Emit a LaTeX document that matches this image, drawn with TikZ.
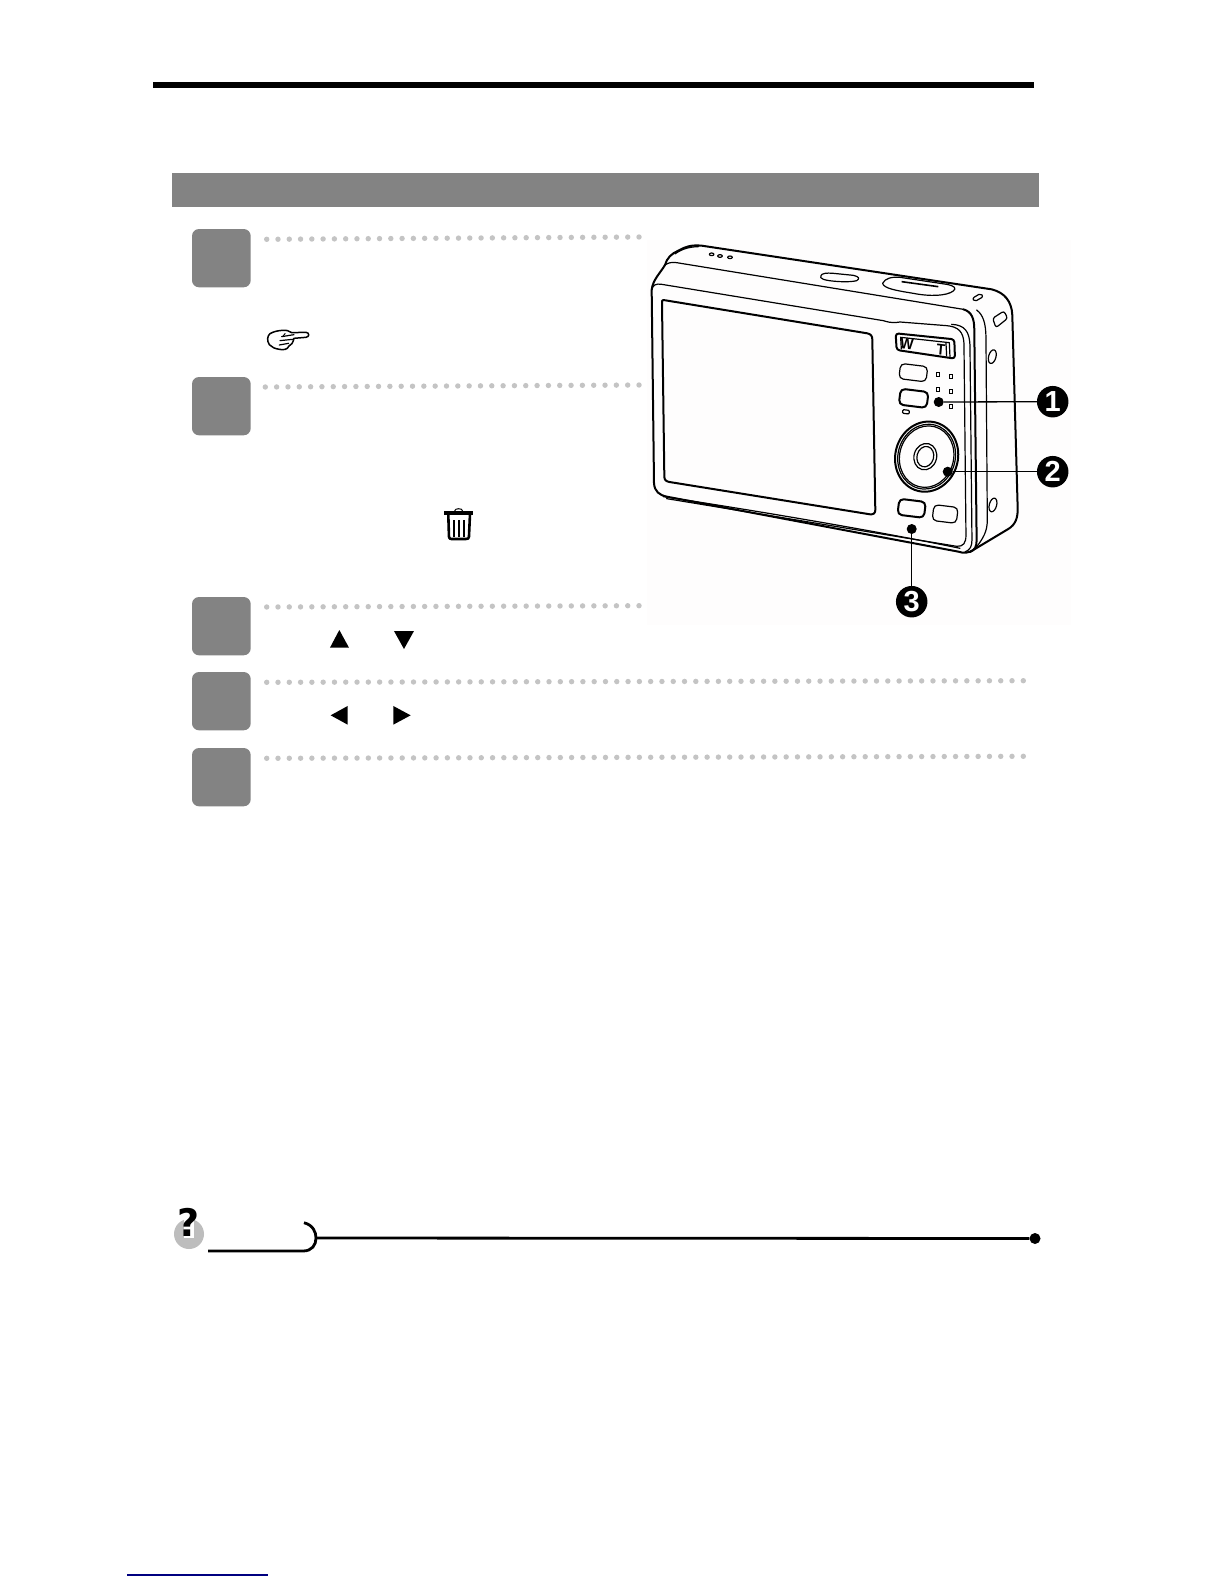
\documentclass[tikz,border=0pt]{standalone}
\usepackage{fontspec}
\setmainfont{Liberation Sans}
\newfontfamily\djv{DejaVu Sans}
\usetikzlibrary{shapes.geometric}
\definecolor{panelgray}{HTML}{838383}
\definecolor{dotgray}{HTML}{C4C4C4}
\definecolor{notegray}{HTML}{BDBDBD}
\definecolor{photobg}{HTML}{FEFDFD}
\definecolor{linkblue}{HTML}{000080}
\tikzset{
  stepbox/.style={fill=panelgray,draw=none,rounded corners=7pt},
  dotmark/.style={fill=dotgray,draw=none},
  tri/.style={fill=black,draw=none},
  cam/.style={line width=1.2pt,line join=round,line cap=round},
  camthick/.style={line width=2pt,line join=round,line cap=round},
  badge/.style={circle,fill=black,text=white,minimum size=31.5pt,inner sep=0pt,font=\bfseries\fontsize{29}{29}\selectfont},
  pin/.style={circle,fill=black,inner sep=0pt,minimum size=10pt},
  leader/.style={line width=1.3pt},
  ruleline/.style={line width=2.8pt}
}
\newcommand{\dotrow}[5]{%
  \foreach \i in {0,...,#5}{%
    \pgfmathsetmacro{\dx}{#1+(#3-#1)/#5*\i}%
    \pgfmathsetmacro{\dy}{#2+(#4-#2)/#5*\i}%
    \fill[dotmark] (\dx,\dy) circle[radius=2.7];%
  }%
}
\begin{document}
\begin{tikzpicture}[x=1pt,y=-1pt]
\useasboundingbox[fill=white] (0,0) rectangle (1224,1584);
% header
\fill[black] (153,82) rectangle (1034,88);
\fill[panelgray] (172,173) rectangle (1039,207);
% step boxes
\foreach \yy in {229,377,597,672,748}{
  \fill[stepbox] (192,\yy) rectangle (250.7,\yy+58.3);
}
% dotted rows
\dotrow{266.7}{239.3}{639}{237}{33}
\dotrow{265.3}{387}{639}{385}{33}
\dotrow{266.7}{607}{639}{605.7}{33}
\dotrow{266.7}{682.3}{1023.3}{680.7}{67}
\dotrow{266.7}{758.3}{1023.3}{756.3}{67}
% hand and trash icons
\begin{scope}[shift={(160,220)},x=.3333pt,y=-.3333pt]
  \draw[line width=1.5pt,line join=round,fill=white] (395,338) -- (438,337) .. controls (449,338) and (449,351) .. (438,352) -- (402,355) .. controls (399,368) and (394,376) .. (386,379) .. controls (384,388) and (370,391) .. (358,388) .. controls (345,386) and (335,382) .. (328,374) .. controls (320,362) and (322,348) .. (330,341) .. controls (342,334) and (355,332) .. (368,331) .. controls (380,330) and (388,333) .. (395,338) -- cycle;
  \draw[line width=1.2pt,line cap=round] (365,350) -- (402,344);
  \draw[line width=1.2pt,line cap=round] (360,362) -- (398,358);
  \draw[line width=1.2pt,line cap=round] (358,375) -- (386,370);
  \draw[line width=1pt] (376,340) -- (368,350);
  \fill[black] (852,873) rectangle (939,885);
  \draw[line width=1pt] (884,873) .. controls (884,864) and (908,864) .. (908,873);
  \draw[line width=2.6pt,line join=round] (865,884) -- (867,950) .. controls (867,955) and (870,957) .. (874,957) -- (918,957) .. controls (924,957) and (927,955) .. (927,950) -- (930,884);
  \foreach \bx in {882,897,912}{\fill[black] (\bx-4,900) rectangle (\bx+4,950);}
\end{scope}
% triangles
\begin{scope}[shift={(180,585)},x=.3333pt,y=-.3333pt]
  \fill[tri] (450,188) -- (507,188) -- (478,135) -- cycle;
  \fill[tri] (642,138) -- (702,138) -- (672,192) -- cycle;
  \fill[tri] (452,391) -- (503,363) -- (503,419) -- cycle;
  \fill[tri] (640,363) -- (640,419) -- (692,391) -- cycle;
\end{scope}
% photo background
\fill[photobg] (647,240) rectangle (1071,625);
% camera
\begin{scope}[shift={(630,230)},x=.3333pt,y=-.3333pt]
  % silhouette
  \draw[camthick] (65,180) .. controls (68,150) and (90,130) .. (105,105)
     .. controls (110,85) and (125,70) .. (145,62) .. controls (165,50) and (185,44) .. (215,47)
     -- (1085,178) .. controls (1125,188) and (1145,215) .. (1147,255)
     -- (1163,830) .. controls (1165,865) and (1155,885) .. (1135,897)
     -- (1030,960) .. controls (1015,970) and (1000,970) .. (985,965)
     -- (110,800) .. controls (88,795) and (74,785) .. (72,760) -- cycle;
  % top surface
  \draw[cam] (105,105) .. controls (115,98) and (125,96) .. (140,98) -- (1000,238);
  \draw[cam] (135,72) .. controls (150,60) and (175,50) .. (205,50);
  \draw[camthick] (1000,238) .. controls (1025,245) and (1033,265) .. (1033,300) -- (1040,930) .. controls (1040,950) and (1035,960) .. (1020,966);
  % front face
  \draw[cam] (65,180) .. controls (68,165) and (78,160) .. (95,163) -- (760,272) .. controls (785,280) and (795,278) .. (810,276) -- (950,287) .. controls (985,290) and (1000,305) .. (1002,340) -- (1008,915) .. controls (1008,940) and (1000,950) .. (980,949) -- (110,806);
  \draw[cam] (965,283) .. controls (1005,285) and (1018,305) .. (1020,345) -- (1026,930) .. controls (1026,950) and (1020,960) .. (1005,966);
  % bottom edge parallel
  \draw[cam] (100,800) .. controls (300,830) and (700,895) .. (990,955);
  % side
  \draw[cam] (1040,240) .. controls (1060,255) and (1067,280) .. (1068,320) -- (1072,870) .. controls (1072,905) and (1060,925) .. (1035,957);
  % screen
  \draw[camthick] (100,210) -- (712,310) .. controls (722,312) and (727,318) .. (727,328) -- (736,840) .. controls (736,850) and (730,854) .. (720,853) -- (118,756) .. controls (108,754) and (103,750) .. (103,740) -- (96,220) .. controls (96,213) and (96,210) .. (100,210) -- cycle;
  % top controls
  \draw[cam] (573,137) .. controls (575,130) and (590,128) .. (610,130) -- (670,136) .. controls (688,140) and (690,146) .. (680,152) .. controls (660,158) and (600,155) .. (580,148) .. controls (572,145) and (570,141) .. (573,137) -- cycle;
  \draw[cam] (758,160) .. controls (765,145) and (785,140) .. (810,142) -- (950,163) .. controls (975,168) and (980,175) .. (970,183) .. controls (950,198) and (900,200) .. (850,190) .. controls (800,182) and (760,175) .. (758,160) -- cycle;
  \draw[line width=1.6pt] (815,155) -- (925,170);
  \foreach \hx/\hy in {245/73,270/78,300/82}{\draw[cam] (\hx,\hy) ellipse[x radius=7,y radius=4];}
  % strap lugs
  \draw[cam,rounded corners=2pt] (1027,205) -- (1052,190) -- (1060,200) -- (1034,215) -- cycle;
  \draw[cam,rounded corners=2.5pt] (1088,265) -- (1122,243) -- (1133,265) -- (1098,293) -- cycle;
  \draw[cam,rotate around={-15:(1087,380)}] (1087,380) ellipse[x radius=11,y radius=21];
  \draw[cam,rotate around={-15:(1089,825)}] (1089,825) ellipse[x radius=11,y radius=21];
  % zoom rocker
  \draw[camthick,rounded corners=3pt] (797,310) -- (973,328) -- (975,386) -- (800,360) -- cycle;
  \draw[cam] (812,322) -- (958,338) -- (960,380);
  \draw[cam] (812,322) -- (814,357);
  \draw[cam] (948,338) -- (950,378);
  \node[inner sep=0pt,font=\bfseries\fontsize{14}{14}\selectfont,yscale=1.1,rotate=-6] (zw) at (831,341) {W};
  \node[inner sep=0pt,font=\bfseries\fontsize{14}{14}\selectfont,yscale=1.1,rotate=-6] (zt) at (933,358) {T};
  % buttons
  \draw[cam,rounded corners=4.5pt,rotate around={-7:(850,428)}] (809,405) rectangle (891,451);
  \draw[camthick,rounded corners=4.5pt,rotate around={-7:(851,505)}] (809,481) rectangle (893,529);
  \draw[cam,rounded corners=1pt,rotate around={-7:(828,545)}] (818,540) rectangle (838,551);
  \draw[camthick,rounded corners=4.5pt,rotate around={-7:(845,835)}] (805,811) rectangle (885,859);
  \draw[cam,rounded corners=4.5pt,rotate around={-7:(945,852)}] (909,828) rectangle (982,876);
  \foreach \sx/\sy in {923/433,962/440,923/479,962/484,962/529}{
    \draw[line width=.8pt] (\sx-4.5,\sy-5.5) rectangle (\sx+4.5,\sy+5.5);
  }
  % pad
  \draw[camthick,rotate around={-15:(890,680)}] (890,680) ellipse[x radius=94,y radius=106];
  \draw[cam,rotate around={-15:(890,680)}] (890,680) ellipse[x radius=86,y radius=98];
  \draw[cam,rotate around={-15:(890,680)}] (890,680) ellipse[x radius=81,y radius=93];
  \draw[cam,rotate around={-15:(886,680)}] (886,680) ellipse[x radius=34,y radius=40];
  \draw[cam,rotate around={-15:(886,680)}] (886,680) ellipse[x radius=25,y radius=31];
\end{scope}
% callouts
\node[pin] (p1) at (938.7,402) {};
\node[pin] (p2) at (947.7,471.7) {};
\node[pin] (p3) at (911.7,529) {};
\node[badge] (b1) at (1052.7,401.7) {1};
\node[badge] (b2) at (1052.7,471.7) {2};
\node[badge] (b3) at (911.7,601.7) {3};
\draw[leader] (p1) -- (b1);
\draw[leader] (p2) -- (b2);
\draw[leader] (p3) -- (b3);
% note
\fill[notegray] (189,1234) circle[radius=15];
\fill[white] (183.5,1219) rectangle (194,1238);
\node[inner sep=0pt,font=\djv\bfseries\fontsize{38}{38}\selectfont] (qm) at (189,1222) {?};
\coordinate (tabtip) at (316,1238);
\node[circle,fill=black,inner sep=0pt,minimum size=11pt] (enddot) at (1035,1238.5) {};
\draw[ruleline] (304,1222.7) .. controls (313,1225) and (316,1232) .. (tabtip) .. controls (316,1245) and (312,1251) .. (303,1251) -- (208,1251);
\draw[ruleline] (tabtip) -- (enddot);
% bottom link line
\coordinate (la) at (127,1575);
\coordinate (lb) at (268,1575);
\draw[linkblue,line width=1.5pt] (la) -- (lb);
\end{tikzpicture}
\end{document}
